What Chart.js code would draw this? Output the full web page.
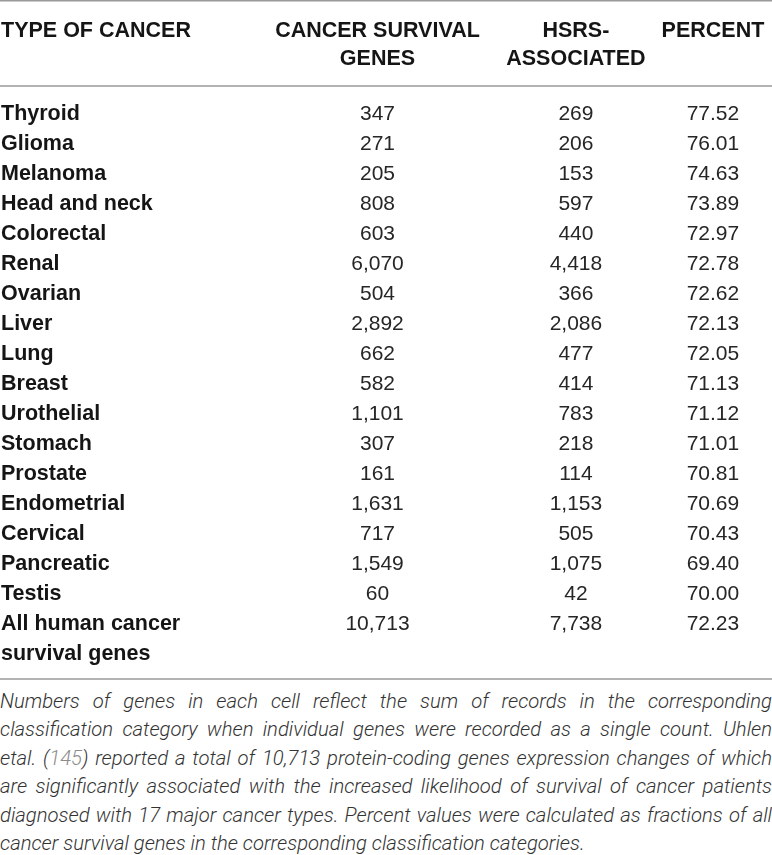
<!DOCTYPE html>
<html>
<head>
<meta charset="utf-8">
<script src="https://cdn.jsdelivr.net/npm/chart.js@4.4.1/dist/chart.umd.min.js"></script>
<style>
  html, body { margin: 0; padding: 0; background: #fff; }
  #wrap { position: relative; width: 772px; height: 683px; }
  #note { position: absolute; left: 0; top: 686.5px; width: 772px; color: #333;
          font-family: "Roboto", "Liberation Sans", sans-serif; font-style: italic; font-weight: 300;
          font-size: 20px; line-height: 28.6px; }
  #note .ln { text-align: justify; text-align-last: justify; height: 28.6px; white-space: nowrap; }
  #note .ln.last { text-align-last: left; }
  #note .ref { color: #8c8c8c; }
</style>
</head>
<body>
<div id="wrap"><canvas id="c"></canvas></div>
<div id="note"></div>
<script>
// ---- data ----
const cancerTypes = ['Thyroid','Glioma','Melanoma','Head and neck','Colorectal','Renal','Ovarian','Liver','Lung','Breast','Urothelial','Stomach','Prostate','Endometrial','Cervical','Pancreatic','Testis','All human cancer survival genes'];
const survivalGenes = [347,271,205,808,603,6070,504,2892,662,582,1101,307,161,1631,717,1549,60,10713];
const hsrsAssociated = [269,206,153,597,440,4418,366,2086,477,414,783,218,114,1153,505,1075,42,7738];
const percentValues = [77.52,76.01,74.63,73.89,72.97,72.78,72.62,72.13,72.05,71.13,71.12,71.01,70.81,70.69,70.43,69.40,70.00,72.23];
const columnHeaders = [['TYPE OF CANCER'], ['CANCER SURVIVAL','GENES'], ['HSRS-','ASSOCIATED'], ['PERCENT']];
const rowLabelLines = cancerTypes.map(t => t === 'All human cancer survival genes' ? ['All human cancer','survival genes'] : [t]);
const footnoteLines = [
  'Numbers of genes in each cell reflect the sum of records in the corresponding',
  'classification category when individual genes were recorded as a single count. Uhlen',
  'etal. (<span class="ref">145</span>) reported a total of 10,713 protein-coding genes expression changes of which',
  'are significantly associated with the increased likelihood of survival of cancer patients',
  'diagnosed with 17 major cancer types. Percent values were calculated as fractions of all',
  'cancer survival genes in the corresponding classification categories.'
];

// ---- layout (styling only) ----
const colCenters = [0.489, 0.746, 0.9235];   // fraction of table width for value columns
const BOLD = 'bold 21.5px "Liberation Sans", Arial, sans-serif';
const REG = '21px "Liberation Sans", Arial, sans-serif';

const fmtInt = v => v.toLocaleString('en-US');
const fmtPct = v => v.toFixed(2);

const tablePlugin = {
  id: 'tablePlugin',
  afterDatasetsDraw(chart) {
    const { ctx, chartArea: a, scales: { x, y } } = chart;
    ctx.save();
    ctx.strokeStyle = '#9a9a9a';
    ctx.lineWidth = 1.5;
    const rules = [0.75, a.top - 26, a.bottom + 57];
    rules.forEach(ry => { ctx.beginPath(); ctx.moveTo(0, ry); ctx.lineTo(chart.width, ry); ctx.stroke(); });
    ctx.font = BOLD; ctx.fillStyle = '#151515'; ctx.textBaseline = 'alphabetic';
    const headBase = a.top - 75;
    columnHeaders.forEach((lines, k) => {
      lines.forEach((ln, j) => {
        if (k === 0) { ctx.textAlign = 'left'; ctx.fillText(ln, x.getPixelForValue(0) + 1, headBase + j * 28); }
        else { ctx.textAlign = 'center'; ctx.fillText(ln, x.getPixelForValue(colCenters[k - 1]), headBase + j * 28); }
      });
    });
    ctx.textAlign = 'left';
    rowLabelLines.forEach((lines, i) => {
      const py = y.getPixelForValue(i);
      lines.forEach((ln, j) => ctx.fillText(ln, x.getPixelForValue(0) + 1, py + 7.5 + j * 30));
    });
    ctx.font = REG; ctx.fillStyle = '#262626'; ctx.textAlign = 'center';
    chart.data.datasets.forEach((ds, k) => {
      const meta = chart.getDatasetMeta(k);
      meta.data.forEach((el, i) => {
        ctx.fillText(ds.fmt(ds.data[i].v), el.x, el.y + 7.5);
      });
    });
    ctx.restore();
  }
};

const mk = (arr, k, fmt, label) => ({
  label, fmt,
  data: cancerTypes.map((t, i) => ({ x: colCenters[k], y: t, v: arr[i] })),
  pointRadius: 0, pointHoverRadius: 0, showLine: false
});

new Chart(document.getElementById('c'), {
  type: 'scatter',
  data: {
    datasets: [
      mk(survivalGenes, 0, fmtInt, 'CANCER SURVIVAL GENES'),
      mk(hsrsAssociated, 1, fmtInt, 'HSRS-ASSOCIATED'),
      mk(percentValues, 2, fmtPct, 'PERCENT')
    ]
  },
  options: {
    responsive: true, maintainAspectRatio: false, animation: false,
    layout: { padding: { top: 112, bottom: 61, left: 0, right: 0 } },
    plugins: { legend: { display: false }, tooltip: { enabled: false } },
    events: [],
    scales: {
      x: { type: 'linear', min: 0, max: 1, display: false },
      y: { type: 'category', labels: cancerTypes, offset: false, display: false }
    }
  },
  plugins: [tablePlugin]
});

// ---- footnote (justified lines) ----
const note = document.getElementById('note');
const mctx = document.createElement('canvas').getContext('2d');
const plain = footnoteLines.map(l => l.replace(/<[^>]+>/g, ''));
let fs = 20.5;
const widest = s => { mctx.font = 'italic 300 ' + s + 'px Roboto, "Liberation Sans", sans-serif'; return Math.max(...plain.map(p => mctx.measureText(p).width)); };
while (widest(fs) > 764 && fs > 12) fs -= 0.25;
note.style.fontSize = fs + 'px';
footnoteLines.forEach((l, i) => {
  const d = document.createElement('div');
  d.className = 'ln' + (i === footnoteLines.length - 1 ? ' last' : '');
  d.innerHTML = l;
  note.appendChild(d);
});
</script>
</body>
</html>
